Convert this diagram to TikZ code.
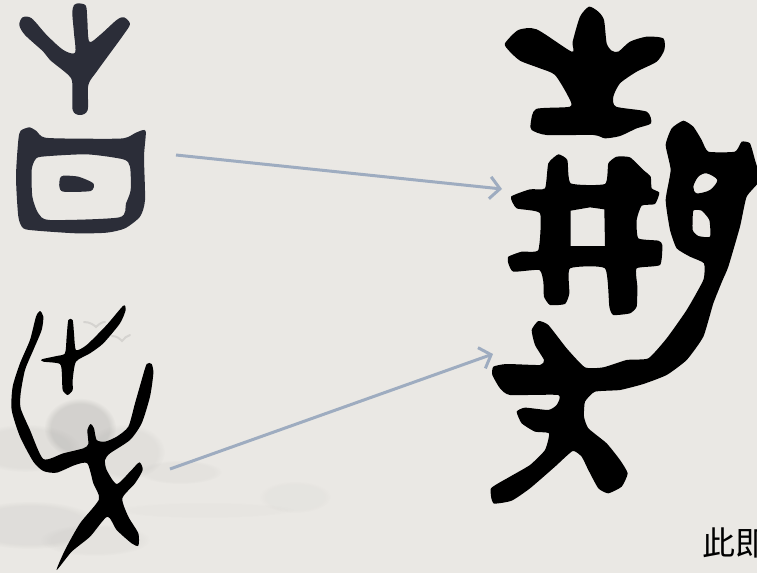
\documentclass[tikz,border=0pt]{standalone}
\usepackage{fontspec}
\newfontfamily\cjkfont{Noto Sans CJK SC}
\usetikzlibrary{arrows.meta,fadings}
\definecolor{paperbg}{RGB}{234,232,228}
\definecolor{washgray}{RGB}{120,120,118}
\definecolor{glyphslate}{RGB}{43,45,56}
\definecolor{arrowblue}{RGB}{158,172,192}
\tikzset{
  wash/.style={fill=washgray,path fading=circle with fuzzy edge 20 percent},
  bird/.style={draw=washgray,draw opacity=0.18,line width=2pt,line cap=round},
  slateglyph/.style={fill=glyphslate,even odd rule},
  blackglyph/.style={fill=black,even odd rule},
  link/.style={draw=arrowblue,line width=3pt,-{Straight Barb[length=10pt,width=22pt,line width=3pt]}},
  caption/.style={font=\cjkfont\fontsize{33}{33}\selectfont,text=black,inner sep=0pt,anchor=west},
}
\begin{document}
\begin{tikzpicture}[x=1pt,y=-1pt]
  \fill[paperbg] (0,0) rectangle (757,573);
  \useasboundingbox (0,0) rectangle (757,573);

  % ink wash behind the lower left glyph
  \fill[wash,fill opacity=0.2] (80,428) ellipse [x radius=36,y radius=30];
  \fill[wash,fill opacity=0.08] (25,448) ellipse [x radius=55,y radius=24];
  \fill[wash,fill opacity=0.08] (125,452) ellipse [x radius=40,y radius=28];
  \fill[wash,fill opacity=0.05] (180,472) ellipse [x radius=42,y radius=12];
  \fill[wash,fill opacity=0.09] (30,525) ellipse [x radius=70,y radius=24];
  \fill[wash,fill opacity=0.05] (95,540) ellipse [x radius=55,y radius=16];
  \fill[wash,fill opacity=0.035] (295,497) ellipse [x radius=36,y radius=16];
  \fill[wash,fill opacity=0.025] (205,510) ellipse [x radius=90,y radius=8];
  \draw[bird] (84,322) .. controls (90,322) and (94,325) .. (96,327) .. controls (99,324) and (102,322) .. (105,322);
  \draw[bird] (112,336) .. controls (117,336) and (120,339) .. (122,341) .. controls (124,338) and (127,336) .. (130,335);

  % upper left glyph
  \begin{scope}[scale=1/3]
    \path[slateglyph] plot[smooth cycle,tension=0.5] coordinates {(238,10) (258,18) (262,60) (268,125) (300,105) (350,60) (372,52) (390,72) (370,105) (330,160) (290,215) (265,255) (263,330) (240,345) (218,330) (217,250) (205,225) (150,180) (130,155) (75,105) (58,75) (68,52) (95,55) (140,105) (190,150) (225,158) (222,100) (217,40) (222,15)};
    \path[slateglyph] plot[smooth cycle,tension=0.4] coordinates {(55,420) (62,392) (88,382) (108,392) (135,413) (250,416) (370,415) (410,397) (437,393) (432,470) (435,600) (420,650) (375,685) (320,698) (230,700) (110,692) (70,685) (55,650) (48,530)}
      plot[smooth cycle,tension=0.4] coordinates {(125,470) (260,463) (370,478) (390,500) (392,570) (378,610) (358,652) (150,660) (115,640) (97,590) (95,510) (105,480)}
      plot[smooth cycle,tension=0.4] coordinates {(190,527) (235,530) (280,550) (272,573) (190,575) (178,560) (180,535)};
  \end{scope}

  % lower left glyph
  \begin{scope}[shift={(0,290)},scale=1/3]
    \path[blackglyph] plot[smooth cycle,tension=0.4] coordinates {(120,63) (130,80) (125,120) (100,180) (75,240) (62,310) (62,355) (90,420) (130,507) (190,490) (250,475) (265,462) (262,420) (272,402) (282,415) (290,450) (315,455) (350,440) (385,410) (405,340) (425,270) (440,222) (455,222) (460,250) (450,320) (425,400) (390,450) (330,490) (315,510) (320,540) (350,582) (390,545) (418,517) (428,540) (405,580) (367,625) (385,680) (415,730) (415,767) (395,760) (350,720) (322,680) (270,740) (215,785) (170,840) (195,780) (240,700) (297,628) (280,580) (262,520) (225,525) (170,548) (130,543) (100,515) (60,440) (35,360) (38,290) (60,220) (90,150) (108,80)};
    \path[blackglyph] plot[smooth cycle,tension=0.4] coordinates {(205,90) (218,90) (222,130) (228,180) (260,165) (320,105) (370,47) (377,60) (360,100) (310,160) (270,190) (228,215) (218,270) (218,300) (203,315) (188,300) (186,260) (180,222) (130,215) (125,208) (170,198) (195,190) (200,140)};
  \end{scope}

  % right glyph
  \begin{scope}[shift={(480,0)},scale=1/3]
    \path[blackglyph] plot[smooth cycle,tension=0.4] coordinates {(327,20) (355,35) (372,60) (380,130) (395,152) (415,155) (450,125) (500,110) (550,115) (553,150) (530,185) (470,215) (420,250) (400,290) (408,320) (500,335) (513,370) (470,385) (420,408) (375,415) (340,405) (200,405) (155,390) (152,370) (168,327) (270,320) (265,290) (225,225) (180,205) (120,182) (85,150) (75,130) (115,90) (170,88) (275,155) (278,125) (300,50)};
    \path[blackglyph] plot[smooth cycle,tension=0.3] coordinates {(235,463) (262,480) (272,550) (375,552) (385,490) (410,470) (450,472) (490,510) (512,530) (515,565) (538,578) (525,612) (485,617) (470,660) (475,715) (535,722) (547,735) (540,795) (470,805) (472,860) (470,920) (450,940) (400,945) (388,920) (375,805) (270,805) (268,880) (255,912) (210,915) (192,890) (190,845) (178,810) (100,815) (85,790) (85,770) (125,755) (175,750) (180,640) (110,625) (93,590) (150,568) (195,565) (205,490)}
      (272,632) -- (330,622) -- (373,628) -- (375,738) -- (272,738) -- cycle;
    \path[blackglyph] plot[smooth cycle,tension=0.3] coordinates {(610,362) (640,380) (665,420) (685,455) (765,455) (785,425) (810,430) (825,480) (840,540) (800,590) (780,680) (745,800) (728,840) (700,910) (670,1010) (620,1080) (560,1125) (490,1152) (420,1170) (345,1175) (315,1205) (312,1250) (325,1285) (380,1330) (420,1380) (443,1420) (425,1460) (385,1480) (355,1465) (325,1410) (305,1370) (278,1353) (225,1400) (150,1465) (95,1502) (40,1510) (33,1465) (90,1430) (150,1395) (195,1350) (207,1300) (165,1295) (125,1270) (110,1235) (135,1223) (205,1230) (230,1215) (235,1185) (90,1185) (60,1165) (37,1125) (40,1100) (80,1092) (180,1095) (192,1080) (165,1035) (155,990) (175,963) (205,975) (260,1045) (315,1102) (370,1102) (440,1080) (505,1075) (560,1015) (620,930) (670,840) (672,790) (630,770) (590,745) (570,690) (557,600) (572,510) (557,435) (575,385)}
      plot[smooth cycle,tension=0.5] coordinates {(680,520) (712,540) (690,570) (650,580) (640,560) (655,530)}
      plot[smooth cycle,tension=0.3] coordinates {(640,632) (665,632) (688,660) (690,710) (655,708) (638,690)};
  \end{scope}

  % connectors
  \coordinate (treefrom) at (176,155);
  \coordinate (treeto) at (502,189);
  \coordinate (manfrom) at (170,469);
  \coordinate (manto) at (493,354);
  \draw[link] (treefrom) -- (treeto);
  \draw[link] (manfrom) -- (manto);

  \node[caption] (note) at (702,543) {此即};
\end{tikzpicture}
\end{document}
